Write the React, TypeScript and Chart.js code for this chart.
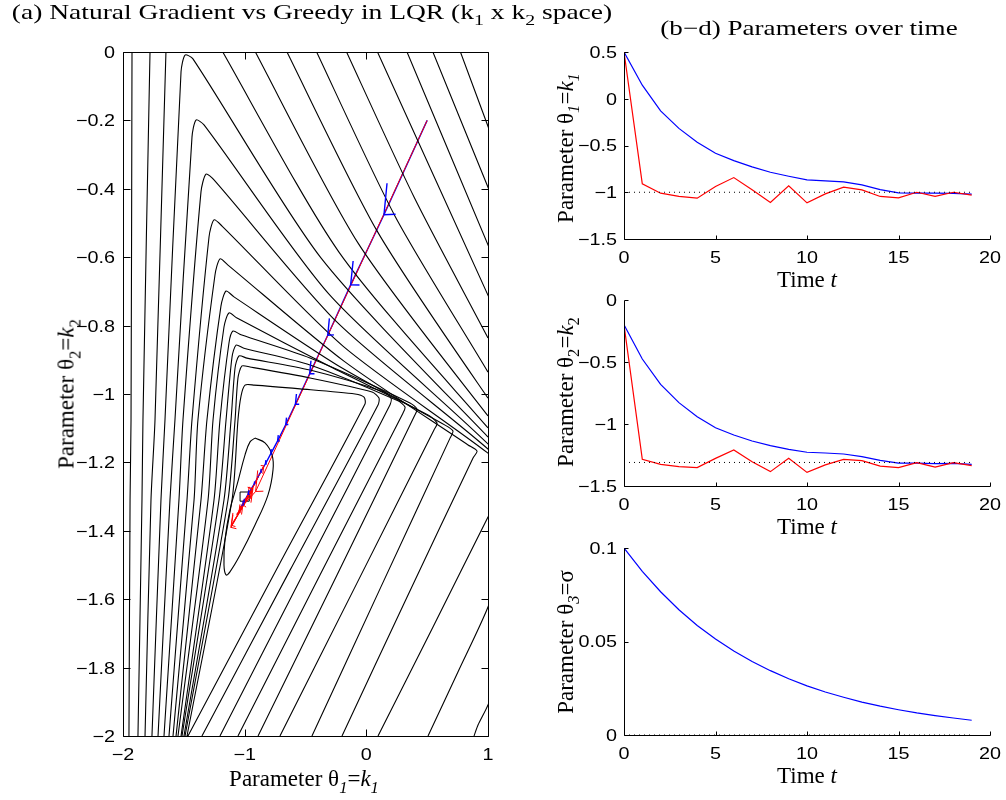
import React, { useEffect, useRef } from "react";
import { Chart, registerables } from "chart.js";

Chart.register(...registerables);

// ---------------- data ----------------
const timeSteps = [0, 1, 2, 3, 4, 5, 6, 7, 8, 9, 10, 11, 12, 13, 14, 15, 16, 17, 18, 19];
const greedyK1 = [0.5, -0.91, -1.01, -1.045, -1.063, -0.939, -0.843, -0.974, -1.109, -0.932, -1.113, -1.017, -0.946, -0.974, -1.045, -1.06, -1.0, -1.045, -1.0, -1.031];
const greedyK2 = [-0.2, -1.285, -1.325, -1.344, -1.352, -1.277, -1.21, -1.304, -1.384, -1.277, -1.39, -1.33, -1.285, -1.296, -1.339, -1.352, -1.312, -1.347, -1.312, -1.336];
const naturalK1 = [0.5, 0.145, -0.129, -0.317, -0.466, -0.583, -0.662, -0.729, -0.786, -0.829, -0.868, -0.878, -0.889, -0.921, -0.971, -1.006, -1.01, -1.01, -1.013, -1.02];
const naturalK2 = [-0.2, -0.476, -0.681, -0.828, -0.941, -1.03, -1.089, -1.137, -1.175, -1.204, -1.228, -1.234, -1.242, -1.263, -1.293, -1.315, -1.315, -1.32, -1.317, -1.325];
const naturalSigma = [0.1, 0.0875, 0.0766, 0.067, 0.0586, 0.0513, 0.0449, 0.0393, 0.0344, 0.0301, 0.0263, 0.023, 0.0202, 0.0176, 0.0154, 0.0135, 0.0118, 0.0104, 0.0091, 0.0079];
const optimalK1 = -1.0;
const optimalK2 = -1.31;
const optimalSigma = 0;
const optimum = [-1.0, -1.3];

const k1AxisTicks = [-2, -1, 0, 1];
const k2AxisTicks = [0, -0.2, -0.4, -0.6, -0.8, -1, -1.2, -1.4, -1.6, -1.8, -2];
const timeTicks = [0, 5, 10, 15, 20];
const k1TimeTicks = [0.5, 0, -0.5, -1, -1.5];
const k2TimeTicks = [0, -0.5, -1, -1.5];
const sigmaTicks = [0, 0.05, 0.1];

// contour lines of the cost in (k1, k2) space
const contourLines: number[][][] = [
  // nested triangular contours, inner to outer
  [[-1.474, -2], [-1.104, -1.31], [-1.055, -1.076], [-1.03, -1.006], [-0.997, -0.974], [-0.923, -0.974], [-0.545, -0.985], [-0.093, -1.0], [-0.019, -1.009], [-0.011, -1.029], [-0.71, -1.494], [-1.466, -2]],
  [[-1.49, -2], [-1.137, -1.31], [-1.079, -1.076], [-1.055, -0.953], [-1.022, -0.918], [-0.956, -0.921], [-0.463, -0.953], [0.047, -0.994], [0.104, -1.012], [0.096, -1.032], [-0.627, -1.515], [-1.351, -2]],
  [[-1.499, -2], [-1.17, -1.31], [-1.112, -1.076], [-1.079, -0.924], [-1.047, -0.889], [-0.981, -0.895], [-0.463, -0.93], [0.145, -0.994], [0.203, -1.012], [0.194, -1.032], [-0.504, -1.515], [-1.203, -2]],
  [[-1.515, -2], [-1.211, -1.31], [-1.153, -1.076], [-1.104, -0.892], [-1.071, -0.857], [-1.006, -0.866], [-0.463, -0.915], [0.26, -1.02], [0.318, -1.038], [0.301, -1.056], [-0.381, -1.529], [-1.055, -2]],
  [[-1.523, -2], [-1.252, -1.31], [-1.203, -1.076], [-1.129, -0.851], [-1.096, -0.816], [-1.03, -0.827], [-0.463, -0.895], [0.359, -1.026], [0.416, -1.044], [0.4, -1.061], [-0.241, -1.529], [-0.89, -2]],
  [[-1.548, -2], [-1.301, -1.31], [-1.26, -1.076], [-1.17, -0.804], [-1.129, -0.763], [-1.063, -0.778], [-0.274, -0.924], [0.507, -1.061], [0.581, -1.085], [0.556, -1.105], [-0.077, -1.553], [-0.71, -2]],
  [[-1.564, -2], [-1.359, -1.31], [-1.31, -1.076], [-1.195, -0.743], [-1.153, -0.699], [-1.088, -0.716], [-0.241, -0.915], [0.647, -1.091], [0.712, -1.108], [0.688, -1.129], [0.12, -1.564], [-0.447, -2]],
  [[-1.589, -2], [-1.416, -1.31], [-1.384, -1.076], [-1.244, -0.652], [-1.203, -0.605], [-1.137, -0.623], [-0.184, -0.904], [0.836, -1.149], [0.91, -1.167], [0.877, -1.187], [0.334, -1.594], [-0.2, -2]],
  [[-1.622, -2], [-1.474, -1.31], [-1.433, -1.076], [-1.293, -0.541], [-1.252, -0.491], [-1.186, -0.509], [-0.192, -0.86], [1.0, -1.173], [1.181, -1.237], [1.0, -1.36], [0.548, -1.681], [0.096, -2]],
  [[-1.663, -2], [-1.54, -1.31], [-1.507, -1.076], [-1.359, -0.409], [-1.318, -0.357], [-1.252, -0.374], [-0.241, -0.79], [1.0, -1.161], [1.345, -1.281], [1.0, -1.623], [0.753, -1.813], [0.507, -2]],
  [[-1.712, -2], [-1.614, -1.31], [-1.573, -1.076], [-1.433, -0.249], [-1.4, -0.199], [-1.334, -0.213], [-0.307, -0.708], [1.0, -1.146], [1.592, -1.368], [1.0, -1.909], [0.918, -1.968], [0.885, -2]],
  [[-1.762, -2], [-1.688, -1.31], [-1.655, -1.076], [-1.523, -0.058], [-1.49, -0.009], [-1.425, -0.02], [-0.373, -0.602], [1.0, -1.126], [1.099, -1.149]],
  // outer contours whose apex lies above the plot: left branches
  [[-1.951, -2], [-1.942, -1.31], [-1.934, -1.076], [-1.926, 0], [-1.926, 0.064]],
  [[-1.877, -2], [-1.844, -1.31], [-1.836, -1.076], [-1.778, 0], [-1.77, 0.064]],
  [[-1.819, -2], [-1.77, -1.31], [-1.737, -1.076], [-1.647, 0], [-1.638, 0.064]],
  // ... and right branches
  [[-1.236, 0.035], [-0.225, -0.585], [1.0, -1.099], [1.066, -1.114]],
  [[-0.964, 0.035], [-0.069, -0.558], [1.0, -1.064], [1.066, -1.079]],
  [[-0.701, 0.035], [0.088, -0.523], [1.0, -1.012], [1.066, -1.029]],
  [[-0.455, 0.035], [0.236, -0.48], [1.0, -0.936], [1.066, -0.977]],
  [[-0.208, 0.035], [0.392, -0.424], [1.0, -0.836], [1.066, -0.883]],
  [[0.047, 0.035], [1.066, -0.763]],
  [[0.293, 0.035], [1.066, -0.62]],
  [[0.507, 0.035], [1.066, -0.453]],
  [[0.737, 0.035], [1.066, -0.281]],
];

// innermost closed contour around the optimum
const innerEllipse: number[][] = [
  [-0.915, -1.129], [-0.833, -1.143], [-0.775, -1.178], [-0.767, -1.222], [-0.808, -1.295], [-0.915, -1.383],
  [-1.038, -1.471], [-1.121, -1.52], [-1.153, -1.529], [-1.17, -1.5], [-1.162, -1.427], [-1.121, -1.339],
  [-1.063, -1.266], [-0.997, -1.178], [-0.956, -1.14], [-0.915, -1.129],
];

// ---------------- helpers ----------------
const SANS = '"Liberation Sans", Arial, Helvetica, sans-serif';
const SERIF = '"Liberation Serif", "Times New Roman", Times, serif';
const RED = "#ff0000";
const BLUE = "#0000ff";

const fmt = (v: number) => {
  const r = Math.round(v * 10000) / 10000;
  const s = String(Math.abs(r));
  return r < 0 ? "\u2212" + s : s;
};

const zip = (xs: number[], ys: number[]) => xs.map((x, i) => ({ x, y: ys[i] }));

function axis(min: number, max: number, ticks: number[], fit: { width?: number; height?: number }) {
  return {
    type: "linear",
    min,
    max,
    afterBuildTicks: (s: any) => {
      s.ticks = ticks.map((v) => ({ value: v, label: fmt(v) }));
    },
    afterFit: (s: any) => {
      if (fit.width != null) s.width = fit.width;
      if (fit.height != null) s.height = fit.height;
    },
    grid: { display: false, drawTicks: false },
    border: { display: false },
    ticks: { display: false, callback: (v: any) => fmt(Number(v)) },
  };
}

// Matlab-like axes: inward ticks, optional box, slightly wide Helvetica tick labels
const matlabAxes = {
  id: "matlabAxes",
  afterDraw(chart: any, _args: any, opts: any) {
    const { ctx, chartArea, scales } = chart;
    const L = opts.tick ?? 5;
    const l = Math.round(chartArea.left) + 0.5;
    const r = Math.round(chartArea.right) + 0.5;
    const t = Math.round(chartArea.top) + 0.5;
    const b = Math.round(chartArea.bottom) + 0.5;
    ctx.save();
    ctx.strokeStyle = "#000";
    ctx.lineWidth = 1;
    ctx.beginPath();
    if (opts.box) {
      ctx.rect(l, t, r - l, b - t);
    } else {
      ctx.moveTo(l, t);
      ctx.lineTo(l, b);
      ctx.lineTo(r, b);
    }
    scales.x.ticks.forEach((tk: any) => {
      const p = Math.round(scales.x.getPixelForValue(tk.value)) + 0.5;
      ctx.moveTo(p, b);
      ctx.lineTo(p, b - L);
      if (opts.box) {
        ctx.moveTo(p, t);
        ctx.lineTo(p, t + L);
      }
    });
    scales.y.ticks.forEach((tk: any) => {
      const p = Math.round(scales.y.getPixelForValue(tk.value)) + 0.5;
      ctx.moveTo(l, p);
      ctx.lineTo(l + L, p);
      if (opts.box) {
        ctx.moveTo(r, p);
        ctx.lineTo(r - L, p);
      }
    });
    ctx.stroke();

    // tick labels
    const size = opts.fontSize ?? 16.5;
    const sx = opts.stretch ?? 1.2;
    const digitH = 0.716 * size;
    ctx.fillStyle = "#000";
    ctx.font = `${size}px ${SANS}`;
    ctx.textBaseline = "alphabetic";
    scales.x.ticks.forEach((tk: any) => {
      const p = scales.x.getPixelForValue(tk.value);
      ctx.save();
      ctx.translate(p, chartArea.bottom + opts.xGap + digitH);
      ctx.scale(sx, 1);
      ctx.textAlign = "center";
      ctx.fillText(fmt(tk.value), 0, 0);
      ctx.restore();
    });
    scales.y.ticks.forEach((tk: any) => {
      const p = scales.y.getPixelForValue(tk.value);
      ctx.save();
      ctx.translate(chartArea.left - opts.yGap, p + digitH / 2);
      ctx.scale(sx, 1);
      ctx.textAlign = "right";
      ctx.fillText(fmt(tk.value), 0, 0);
      ctx.restore();
    });
    ctx.restore();
  },
};

// quiver-like arrow heads at every vertex of a trajectory, computed in data units
const quiverHeads = {
  id: "quiverHeads",
  afterDatasetsDraw(chart: any) {
    const { ctx, scales } = chart;
    const xs = scales.x;
    const ys = scales.y;
    ctx.save();
    chart.data.datasets.forEach((ds: any) => {
      if (!ds.arrowHeads) return;
      const { alpha, beta, maxLen } = ds.arrowHeads;
      const pts = ds.data;
      ctx.strokeStyle = ds.borderColor;
      ctx.lineWidth = ds.borderWidth;
      for (let i = 1; i < pts.length; i++) {
        let u = pts[i].x - pts[i - 1].x;
        let v = pts[i].y - pts[i - 1].y;
        const len = Math.hypot(u, v);
        if (len < 1e-9) continue;
        if (maxLen && len > maxLen) {
          u = (u / len) * maxLen;
          v = (v / len) * maxLen;
        }
        const hx = pts[i].x;
        const hy = pts[i].y;
        const b1x = hx - alpha * (u + beta * v);
        const b1y = hy - alpha * (v - beta * u);
        const b2x = hx - alpha * (u - beta * v);
        const b2y = hy - alpha * (v + beta * u);
        ctx.beginPath();
        ctx.moveTo(xs.getPixelForValue(b1x), ys.getPixelForValue(b1y));
        ctx.lineTo(xs.getPixelForValue(hx), ys.getPixelForValue(hy));
        ctx.lineTo(xs.getPixelForValue(b2x), ys.getPixelForValue(b2y));
        ctx.stroke();
      }
    });
    ctx.restore();
  },
};

function buildLeft(): any {
  const contourSets = contourLines.map((pts) => ({
    data: pts.map(([x, y]) => ({ x, y })),
    showLine: true,
    borderColor: "#000",
    borderWidth: 1.1,
    pointRadius: 0,
    tension: 0.25,
  }));
  return {
    type: "scatter",
    data: {
      datasets: [
        ...contourSets,
        {
          data: innerEllipse.map(([x, y]) => ({ x, y })),
          showLine: true,
          borderColor: "#000",
          borderWidth: 1.1,
          pointRadius: 0,
          tension: 0.4,
        },
        {
          data: zip(greedyK1, greedyK2),
          showLine: true,
          borderColor: RED,
          borderWidth: 1,
          pointRadius: 0,
          tension: 0,
          arrowHeads: { alpha: 0.17, beta: 0.75, maxLen: 0.3 },
        },
        {
          data: zip(naturalK1, naturalK2),
          showLine: true,
          borderColor: BLUE,
          borderWidth: 1.4,
          pointRadius: 0,
          tension: 0,
          arrowHeads: { alpha: 0.17, beta: 0.75 },
        },
        {
          data: [{ x: optimum[0], y: optimum[1] }],
          showLine: false,
          pointStyle: "rect",
          pointRadius: 6.5,
          borderColor: "#000",
          borderWidth: 1,
          backgroundColor: "rgba(0,0,0,0)",
        },
      ],
    },
    options: {
      animation: false,
      responsive: false,
      maintainAspectRatio: false,
      events: [],
      layout: { padding: { left: 0, top: 52, right: 12, bottom: 24 } },
      plugins: {
        legend: { display: false },
        tooltip: { enabled: false },
        matlabAxes: { box: true, tick: 7, xGap: 12, yGap: 8 },
      },
      scales: {
        x: axis(-2, 1, k1AxisTicks, { height: 40 }),
        y: axis(-2, 0, k2AxisTicks, { width: 123 }),
      },
    },
    plugins: [matlabAxes, quiverHeads],
  };
}

function buildTime(series: { values: number[]; color: string }[], optimal: number, yMin: number, yMax: number, yTicks: number[], padTop: number, padBottom: number): any {
  return {
    type: "scatter",
    data: {
      datasets: [
        {
          data: timeSteps.map((t) => ({ x: t, y: optimal })),
          showLine: true,
          borderColor: "#000",
          borderWidth: 1,
          borderDash: [1, 4],
          pointRadius: 0,
        },
        ...series.map((s) => ({
          data: zip(timeSteps, s.values),
          showLine: true,
          borderColor: s.color,
          borderWidth: 1.2,
          pointRadius: 0,
          tension: 0,
        })),
      ],
    },
    options: {
      animation: false,
      responsive: false,
      maintainAspectRatio: false,
      events: [],
      layout: { padding: { left: 0, top: padTop, right: 16, bottom: padBottom } },
      plugins: {
        legend: { display: false },
        tooltip: { enabled: false },
        matlabAxes: { box: false, tick: 4, xGap: 12, yGap: 7 },
      },
      scales: {
        x: axis(0, 20, timeTicks, { height: 28 }),
        y: axis(yMin, yMax, yTicks, { width: 124 }),
      },
    },
    plugins: [matlabAxes],
  };
}

function ChartCanvas(props: { left: number; top: number; width: number; height: number; build: () => any }) {
  const ref = useRef<HTMLCanvasElement>(null);
  useEffect(() => {
    const chart = new Chart(ref.current as HTMLCanvasElement, props.build());
    return () => chart.destroy();
  }, []);
  return (
    <canvas
      ref={ref}
      width={props.width}
      height={props.height}
      style={{ position: "absolute", left: props.left, top: props.top, width: props.width, height: props.height }}
    />
  );
}

const Sub = (p: { children: any }) => (
  <sub style={{ fontSize: "0.72em", verticalAlign: "-0.4em", lineHeight: 0, fontStyle: "normal" }}>{p.children}</sub>
);

function HLabel(p: { cx: number; top: number; size: number; sx?: number; children: any }) {
  return (
    <div
      style={{
        position: "absolute",
        left: p.cx - 400,
        width: 800,
        top: p.top,
        textAlign: "center",
        fontSize: p.size,
        lineHeight: 1,
        whiteSpace: "nowrap",
        transform: `scaleX(${p.sx ?? 1})`,
        transformOrigin: "50% 50%",
      }}
    >
      {p.children}
    </div>
  );
}

function VLabel(p: { cx: number; cy: number; size: number; children: any }) {
  return (
    <div
      style={{
        position: "absolute",
        left: p.cx,
        top: p.cy,
        transform: "translate(-50%, -50%) rotate(-90deg)",
        fontSize: p.size,
        lineHeight: 1,
        whiteSpace: "nowrap",
      }}
    >
      {p.children}
    </div>
  );
}

export default function App() {
  return (
    <div
      style={{
        position: "absolute",
        left: 0,
        top: 0,
        width: 1006,
        height: 800,
        background: "#fff",
        color: "#000",
        fontFamily: SERIF,
        overflow: "hidden",
      }}
    >
      <ChartCanvas left={0} top={0} width={500} height={800} build={buildLeft} />
      <ChartCanvas
        left={500}
        top={20}
        width={506}
        height={250}
        build={() =>
          buildTime(
            [
              { values: greedyK1, color: RED },
              { values: naturalK1, color: BLUE },
            ],
            optimalK1, -1.5, 0.5, k1TimeTicks, 32, 3
          )
        }
      />
      <ChartCanvas
        left={500}
        top={270}
        width={506}
        height={250}
        build={() =>
          buildTime(
            [
              { values: greedyK2, color: RED },
              { values: naturalK2, color: BLUE },
            ],
            optimalK2, -1.5, 0, k2TimeTicks, 30, 6
          )
        }
      />
      <ChartCanvas
        left={500}
        top={520}
        width={506}
        height={250}
        build={() => buildTime([{ values: naturalSigma, color: BLUE }], optimalSigma, 0, 0.1, sigmaTicks, 28, 7)}
      />

      <HLabel cx={312} top={2} size={21} sx={1.31}>
        (a) Natural Gradient vs Greedy in LQR (k<Sub>1</Sub> x k<Sub>2</Sub> space)
      </HLabel>
      <HLabel cx={809} top={18} size={21} sx={1.29}>
        (b{"\u2212"}d) Parameters over time
      </HLabel>

      <HLabel cx={304} top={767} size={23}>
        Parameter {"\u03b8"}<Sub><i>1</i></Sub>=<i>k</i><Sub><i>1</i></Sub>
      </HLabel>
      <VLabel cx={66} cy={394} size={23}>
        Parameter {"\u03b8"}<Sub>2</Sub>=<i>k</i><Sub>2</Sub>
      </VLabel>

      <HLabel cx={807} top={268} size={23}>
        Time <i>t</i>
      </HLabel>
      <HLabel cx={807} top={515} size={23}>
        Time <i>t</i>
      </HLabel>
      <HLabel cx={807} top={764} size={23}>
        Time <i>t</i>
      </HLabel>

      <VLabel cx={565} cy={148} size={23}>
        Parameter {"\u03b8"}<Sub><i>1</i></Sub>=<i>k</i><Sub><i>1</i></Sub>
      </VLabel>
      <VLabel cx={565} cy={392} size={23}>
        Parameter {"\u03b8"}<Sub>2</Sub>=<i>k</i><Sub>2</Sub>
      </VLabel>
      <VLabel cx={565} cy={642} size={23}>
        Parameter {"\u03b8"}<Sub><i>3</i></Sub>={"\u03c3"}
      </VLabel>
    </div>
  );
}
